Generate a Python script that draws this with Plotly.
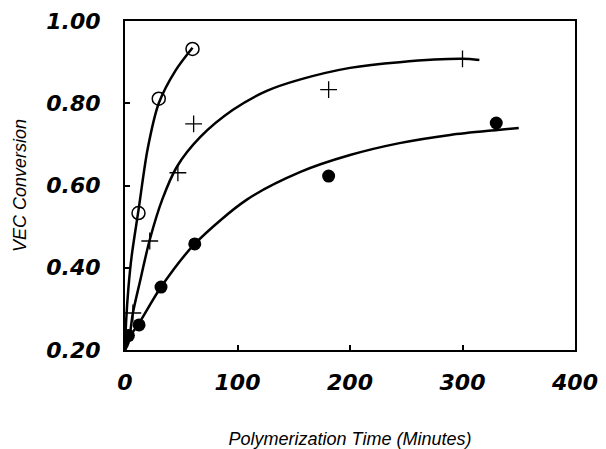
import plotly.graph_objects as go

# Measured data points (time in minutes, VEC conversion)
open_t = [12, 30, 60]
open_y = [0.533, 0.811, 0.932]

plus_t = [7, 22, 47, 61, 181, 300]
plus_y = [0.29, 0.465, 0.631, 0.75, 0.833, 0.908]

filled_t = [3, 12.5, 32, 62, 181, 330]
filled_y = [0.235, 0.261, 0.353, 0.458, 0.623, 0.752]

# Fitted curves
curveA_t = [0, 1, 3, 6, 12, 20, 30, 45, 60]
curveA_y = [0.2, 0.27, 0.35, 0.43, 0.54, 0.687, 0.8, 0.88, 0.935]

curveB_t = [0, 3, 7, 13, 22, 33, 46, 67, 96, 126, 156, 200, 244, 300, 315]
curveB_y = [0.2, 0.217, 0.29, 0.363, 0.468, 0.565, 0.645, 0.718, 0.784, 0.83, 0.858, 0.886, 0.9, 0.908, 0.905]

curveC_t = [0, 3, 6, 12.5, 32, 62, 108, 156, 200, 244, 289, 331, 350]
curveC_y = [0.2, 0.225, 0.24, 0.265, 0.353, 0.458, 0.565, 0.633, 0.674, 0.703, 0.723, 0.735, 0.74]

x_ticks = [0, 100, 200, 300, 400]
y_ticks = [0.2, 0.4, 0.6, 0.8, 1.0]
y_ticklabels = ["0.20", "0.40", "0.60", "0.80", "1.00"]

fig = go.Figure()
line_style = dict(color="black", width=2.5, shape="spline", smoothing=0.8)
for t, y in [(curveA_t, curveA_y), (curveB_t, curveB_y), (curveC_t, curveC_y)]:
    fig.add_trace(go.Scatter(x=t, y=y, mode="lines", line=line_style,
                             showlegend=False, hoverinfo="skip"))

fig.add_trace(go.Scatter(x=open_t, y=open_y, mode="markers", showlegend=False,
                         marker=dict(symbol="circle-open", size=13, color="black",
                                     line=dict(width=1.5, color="black"))))
fig.add_trace(go.Scatter(x=plus_t, y=plus_y, mode="markers", showlegend=False,
                         marker=dict(symbol="cross-thin", size=12, color="black",
                                     line=dict(width=1.3, color="black"))))
fig.add_trace(go.Scatter(x=filled_t, y=filled_y, mode="markers", showlegend=False,
                         marker=dict(symbol="circle", size=13, color="black")))

tickfont = dict(family="DejaVu Sans", size=22, color="black", weight="bold", style="italic")
titlefont = dict(family="Liberation Sans", size=18, color="black", style="italic")

fig.update_layout(
    width=598, height=441,
    margin=dict(l=117, r=31, t=13, b=99),
    paper_bgcolor="white", plot_bgcolor="white",
    xaxis=dict(range=[0, 400], tickvals=x_ticks, ticktext=[str(v) for v in x_ticks],
               ticks="inside", ticklen=5, tickwidth=1.5, tickcolor="black",
               showline=True, linecolor="black", linewidth=2, mirror=True,
               showgrid=False, zeroline=False, tickfont=tickfont, automargin=False,
               ticklabelstandoff=12,
               title=dict(text="Polymerization Time (Minutes)", font=titlefont, standoff=39)),
    yaxis=dict(range=[0.2, 1.0], tickvals=y_ticks, ticktext=y_ticklabels,
               ticks="inside", ticklen=5, tickwidth=1.5, tickcolor="black",
               showline=True, linecolor="black", linewidth=2, mirror=True,
               showgrid=False, zeroline=False, tickfont=tickfont, automargin=False,
               ticklabelstandoff=18,
               title=dict(text="VEC Conversion", font=titlefont, standoff=15)),
)

fig.write_html("out.html")
